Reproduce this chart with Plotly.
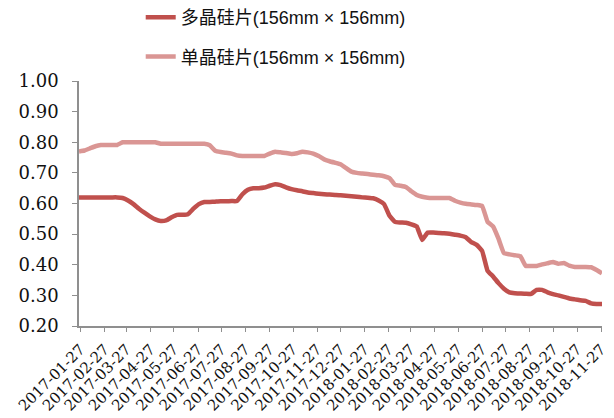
import datetime as dt
import plotly.graph_objects as go

# Weekly price series (RMB per wafer), Wednesdays from 2017-01-25 to 2018-11-28
start = dt.date(2017, 1, 25)
n_weeks = 97
dates = [start + dt.timedelta(days=7 * i) for i in range(n_weeks)]

multi_si = [
    0.620, 0.620, 0.620, 0.620, 0.620, 0.620, 0.620, 0.620, 0.618, 0.610,
    0.598, 0.583, 0.570, 0.558, 0.548, 0.543, 0.545, 0.555, 0.563, 0.563,
    0.565, 0.583, 0.598, 0.605, 0.605, 0.606, 0.607, 0.607, 0.608, 0.608,
    0.630, 0.645, 0.650, 0.650, 0.652, 0.658, 0.663, 0.660, 0.653, 0.647,
    0.643, 0.640, 0.636, 0.634, 0.632, 0.630, 0.629, 0.628, 0.627, 0.625,
    0.624, 0.622, 0.620, 0.619, 0.617, 0.610, 0.598, 0.560, 0.540, 0.538,
    0.537, 0.532, 0.525, 0.481, 0.505, 0.505, 0.504, 0.503, 0.501, 0.498,
    0.495, 0.490, 0.474, 0.465, 0.445, 0.380, 0.362, 0.340, 0.322, 0.310,
    0.307, 0.306, 0.305, 0.305, 0.318, 0.318, 0.310, 0.304, 0.300, 0.295,
    0.290, 0.287, 0.284, 0.282, 0.274, 0.272, 0.272,
]

mono_si = [
    0.770, 0.773, 0.780, 0.787, 0.791, 0.791, 0.791, 0.791, 0.800, 0.800,
    0.800, 0.800, 0.800, 0.800, 0.800, 0.795, 0.795, 0.795, 0.795, 0.795,
    0.795, 0.795, 0.795, 0.795, 0.790, 0.772, 0.768, 0.766, 0.763, 0.757,
    0.755, 0.755, 0.755, 0.755, 0.755, 0.763, 0.769, 0.767, 0.765, 0.762,
    0.764, 0.769, 0.767, 0.763, 0.755, 0.744, 0.738, 0.733, 0.728, 0.716,
    0.704, 0.700, 0.698, 0.696, 0.694, 0.692, 0.689, 0.683, 0.661, 0.658,
    0.654, 0.640, 0.628, 0.622, 0.619, 0.618, 0.618, 0.618, 0.618, 0.609,
    0.603, 0.599, 0.597, 0.595, 0.592, 0.540, 0.525, 0.485, 0.438, 0.434,
    0.431, 0.428, 0.396, 0.396, 0.396, 0.401, 0.405, 0.409, 0.403, 0.406,
    0.397, 0.393, 0.393, 0.393, 0.392, 0.383, 0.372,
]

series_names = ["多晶硅片(156mm × 156mm)", "单晶硅片(156mm × 156mm)"]
series_colors = ["#C0504D", "#DA9694"]

# Monthly tick labels on the 27th
tick_dates = []
y, m = 2017, 1
while (y, m) <= (2018, 11):
    tick_dates.append(dt.date(y, m, 27))
    m += 1
    if m > 12:
        y, m = y + 1, 1
tick_labels = [d.strftime("%Y-%m-%d") for d in tick_dates]

y_ticks = [0.2, 0.3, 0.4, 0.5, 0.6, 0.7, 0.8, 0.9, 1.0]
y_labels = [f"{v:.2f}" for v in y_ticks]

fig = go.Figure()
for name, vals, col in zip(series_names, [multi_si, mono_si], series_colors):
    fig.add_trace(go.Scatter(
        x=dates, y=vals, name=name, mode="lines", legendgroup=name,
        line=dict(color=col, width=4.5, shape="spline", smoothing=0.3),
    ))

axis_col = "#8f8f8f"
fig.update_layout(
    width=614, height=418,
    margin=dict(l=79, r=12, t=81, b=92, autoexpand=False),
    paper_bgcolor="white", plot_bgcolor="white",
    showlegend=True,
    legend=dict(
        x=0.118, xanchor="left", y=1.335, yanchor="top",
        font=dict(family="Liberation Sans, Noto Sans CJK SC", size=18, color="#111"),
        tracegroupgap=13, bgcolor="rgba(0,0,0,0)",
    ),
    xaxis=dict(
        type="date", automargin=False,
        range=[dates[0], dates[-1]],
        tickmode="array", tickvals=tick_dates, ticktext=tick_labels,
        tickangle=-45, ticks="outside", ticklen=4, tickcolor=axis_col,
        ticklabelstandoff=3,
        showline=True, linecolor=axis_col, linewidth=1.5,
        showgrid=False, zeroline=False,
        tickfont=dict(family="DejaVu Serif", size=15, color="#111"),
    ),
    yaxis=dict(
        range=[0.2, 1.0], automargin=False,
        tickmode="array", tickvals=y_ticks, ticktext=y_labels,
        ticks="outside", ticklen=5, tickcolor=axis_col,
        ticklabelstandoff=10,
        showline=True, linecolor=axis_col, linewidth=1.5,
        showgrid=False, zeroline=False,
        tickfont=dict(family="DejaVu Serif", size=18, color="#111"),
    ),
)

fig.write_html("out.html")
